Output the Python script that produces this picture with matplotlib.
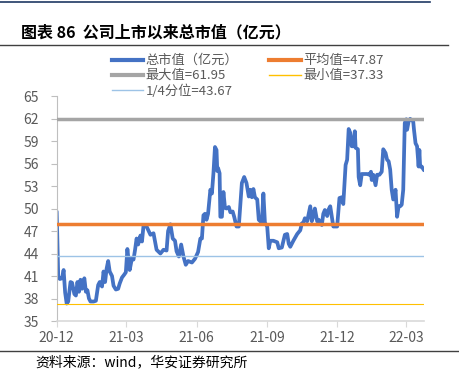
import matplotlib

matplotlib.use("Agg")
import matplotlib.pyplot as plt
import matplotlib.dates as mdates
import pandas as pd
from matplotlib.lines import Line2D

plt.rcParams["font.family"] = ["Noto Sans CJK SC", "DejaVu Sans"]

# listing date and days since listing for each traced point
START = "2020-12-01"
DAYS = [
    0, 2, 4, 7, 9, 11, 13, 15, 18, 20, 23, 25, 27, 29, 31, 33, 36, 38, 40, 42,
    44, 48, 51, 54, 56, 59, 61, 63, 65, 67, 69, 72, 74, 77, 80, 82, 85, 88, 90, 92,
    95, 98, 100, 102, 104, 106, 109, 111, 113, 117, 122, 126, 130, 135, 139, 143, 145, 148, 151, 154,
    156, 159, 162, 165, 168, 171, 176, 180, 184, 187, 189, 191, 193, 195, 197, 200, 202, 204, 206, 208,
    209, 210, 212, 213, 215, 217, 219, 221, 224, 226, 229, 231, 234, 237, 239, 241, 244, 247, 250, 252,
    254, 256, 258, 261, 263, 265, 267, 269, 271, 274, 276, 278, 282, 287, 289, 293, 297, 300, 302, 304,
    306, 308, 313, 317, 319, 321, 323, 326, 330, 332, 334, 336, 339, 341, 345, 347, 349, 352, 354, 356,
    358, 360, 365, 368, 371, 373, 376, 378, 380, 382, 384, 386, 388, 389, 392, 393, 395, 397, 399, 404,
    407, 409, 410, 412, 415, 417, 420, 423, 425, 428, 430, 432, 434, 436, 438, 441, 443, 445, 447, 449,
    451, 453, 455, 456, 458, 460, 464, 465, 467, 469, 471, 472, 473, 475, 478,
]
MARKET_CAP = [
    49.6, 41.0, 40.6, 40.7, 41.8, 38.8, 37.33, 37.6, 40.2, 40.1, 38.6, 38.4, 40.2, 38.9, 40.5, 39.3, 40.7, 38.9, 39.1, 38.0,
    37.6, 37.6, 37.7, 39.8, 40.2, 39.6, 41.6, 40.2, 42.0, 43.0, 41.6, 41.0, 39.7, 39.2, 39.3, 40.0, 40.8, 41.2, 41.5, 44.6,
    41.8, 43.4, 43.2, 44.5, 46.0, 45.2, 46.4, 45.6, 47.7, 47.6, 46.5, 46.7, 44.5, 44.0, 44.5, 44.4, 47.0, 47.9, 46.0, 45.7,
    44.3, 43.6, 45.2, 43.6, 42.5, 43.0, 42.8, 43.3, 44.2, 46.0, 46.0, 49.1, 49.3, 48.5, 49.3, 52.5, 52.0, 54.7, 58.2, 57.8,
    55.0, 55.4, 54.7, 48.9, 48.9, 52.2, 50.1, 50.0, 50.2, 49.5, 49.6, 48.9, 47.6, 47.6, 50.4, 53.4, 54.2, 53.4, 51.6, 52.5,
    51.5, 52.6, 51.5, 51.2, 48.5, 48.3, 48.1, 52.0, 48.1, 47.6, 44.7, 45.7, 45.7, 45.5, 44.7, 44.8, 46.5, 46.6, 45.3, 44.9,
    45.3, 45.7, 46.6, 47.1, 48.0, 48.1, 48.7, 48.3, 50.3, 48.3, 49.0, 50.0, 48.3, 48.5, 47.8, 49.3, 49.8, 49.0, 49.9, 50.3,
    48.9, 47.6, 47.6, 51.4, 51.5, 50.6, 55.8, 56.5, 60.6, 60.1, 58.3, 58.3, 60.3, 58.1, 57.9, 54.2, 53.1, 54.6, 54.6, 54.6,
    54.5, 54.9, 53.8, 54.5, 53.1, 54.5, 54.5, 54.9, 57.9, 57.4, 56.5, 56.3, 55.2, 52.5, 51.2, 52.5, 48.9, 50.3, 50.3, 50.5,
    52.5, 61.4, 61.9, 60.5, 61.6, 61.95, 61.6, 60.5, 58.7, 58.3, 55.6, 57.8, 55.6, 55.6, 55.1,
]

MEAN_VALUE = 47.87
MAX_VALUE = 61.95
MIN_VALUE = 37.33
QUARTER_VALUE = 43.67

SERIES_LABELS = ["总市值（亿元）", "最大值=61.95", "1/4分位=43.67", "平均值=47.87", "最小值=37.33"]
Y_TICKS = list(range(35, 66, 3))
X_TICKS = ["2020-12-01", "2021-03-01", "2021-06-01", "2021-09-01", "2021-12-01", "2022-03-01"]

TEXT_GREY = "#595959"


def main() -> int:
    dates = pd.Timestamp(START) + pd.to_timedelta(DAYS, unit="D")
    span = [dates[0], dates[-1]]

    fig = plt.figure(figsize=(4.59, 3.84), dpi=100)
    ax = fig.add_axes([0.1235, 0.164, 0.8002, 0.586])

    ax.plot(dates, MARKET_CAP, color="#4472C4", linewidth=2.7, solid_joinstyle="round",
            solid_capstyle="round", zorder=2)
    ax.plot(span, [MAX_VALUE] * 2, color="#A5A5A5", linewidth=2.5, zorder=3)
    ax.plot(span, [QUARTER_VALUE] * 2, color="#9DC3E6", linewidth=1.0, zorder=3)
    ax.plot(span, [MEAN_VALUE] * 2, color="#ED7D31", linewidth=2.5, zorder=3)
    ax.plot(span, [MIN_VALUE] * 2, color="#FFC000", linewidth=0.8, zorder=3)

    ax.set_xlim(span)
    ax.set_ylim(35, 65)
    ax.set_yticks(Y_TICKS)
    ax.set_xticks(pd.to_datetime(X_TICKS))
    ax.xaxis.set_major_formatter(mdates.DateFormatter("%y-%m"))

    for side in ("top", "right"):
        ax.spines[side].set_visible(False)
    ax.spines["left"].set_color("#bfbfbf")
    ax.spines["bottom"].set_color("#d9d9d9")
    ax.spines["bottom"].set_linewidth(1.2)
    ax.tick_params(axis="y", colors="#bfbfbf", labelcolor=TEXT_GREY, labelsize=10, length=4, pad=9)
    ax.tick_params(axis="x", colors="#d9d9d9", labelcolor=TEXT_GREY, labelsize=10, length=4, pad=3)

    handles = [
        Line2D([], [], color="#4472C4", linewidth=3.0),
        Line2D([], [], color="#A5A5A5", linewidth=3.0),
        Line2D([], [], color="#9DC3E6", linewidth=1.0),
        Line2D([], [], color="#ED7D31", linewidth=3.0),
        Line2D([], [], color="#FFC000", linewidth=1.0),
    ]
    fig.legend(
        handles,
        SERIES_LABELS,
        ncol=2,
        loc="upper left",
        bbox_to_anchor=(0.243, 0.859),
        frameon=False,
        fontsize=9.5,
        labelcolor=TEXT_GREY,
        handlelength=2.4,
        handletextpad=0.2,
        columnspacing=2.3,
        labelspacing=0.15,
        borderpad=0,
        borderaxespad=0,
    )

    # report frame: rules, title and source line
    fig.add_artist(Line2D([0, 0.937], [0.995, 0.995], color="#1F3864", linewidth=1.2))
    fig.add_artist(Line2D([0, 0.976], [0.883, 0.883], color="#404040", linewidth=1.0))
    fig.add_artist(Line2D([0, 1.0], [0.086, 0.086], color="#404040", linewidth=1.0))
    fig.text(0.046, 0.903, "图表 86  公司上市以来总市值（亿元）", fontsize=11.5,
             fontweight="bold", color="#000000", va="baseline")
    fig.text(0.076, 0.047, "资料来源：wind，华安证券研究所", fontsize=10,
             color="#000000", va="baseline")

    fig.savefig("out.png", dpi=100)
    return 0


if __name__ == "__main__":
    raise SystemExit(main())
